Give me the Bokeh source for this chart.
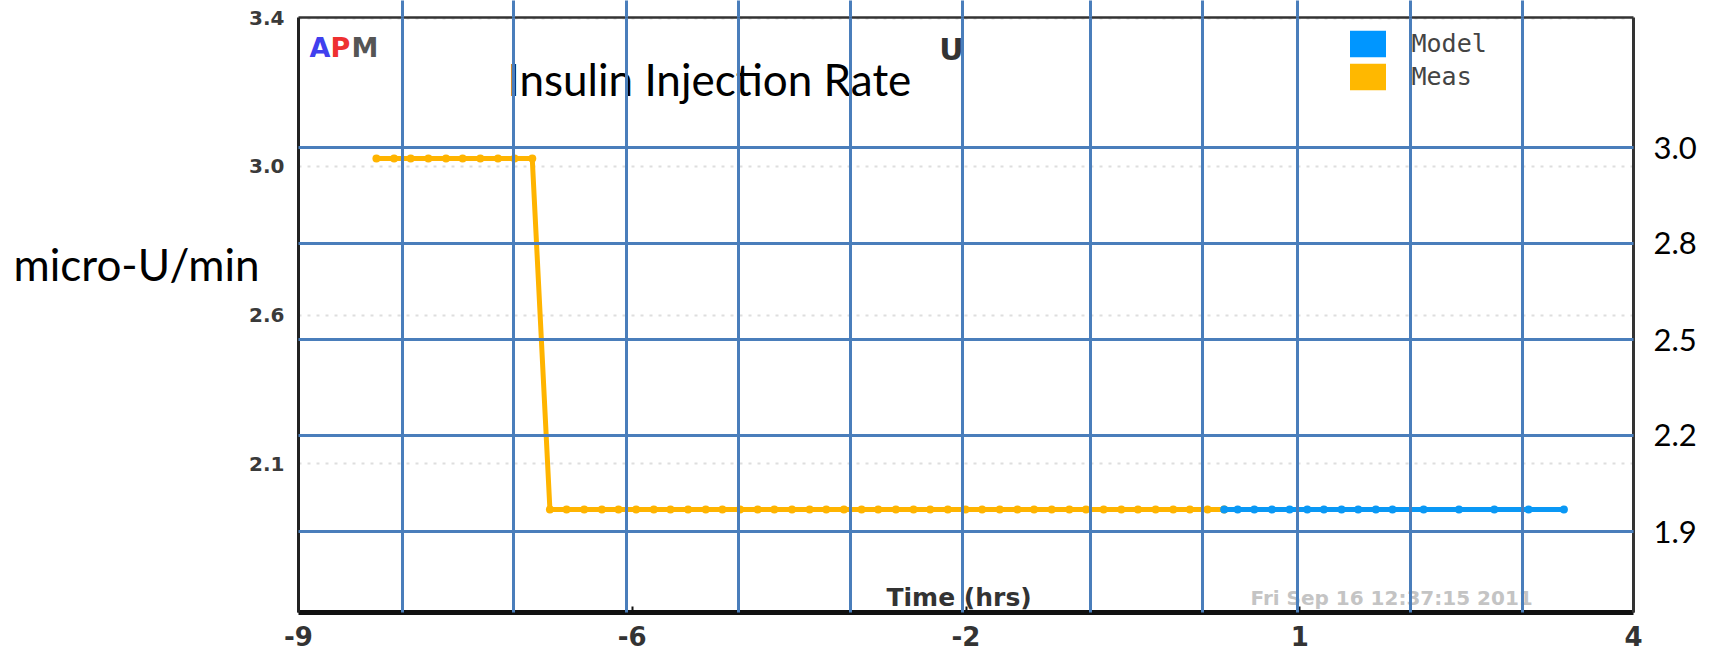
from bokeh.plotting import figure
from bokeh.models import (Range1d, FixedTicker, LinearAxis, Grid, Label, Legend, LegendItem)
from bokeh.embed import file_html
from bokeh.resources import INLINE

# ---------------- data ----------------
meas_time = [-8.0, -7.83, -7.67, -7.5, -7.33, -7.17, -7.0, -6.83, -6.67, -6.5,
             -6.33, -6.17, -6.0, -5.83, -5.67, -5.5, -5.33, -5.17, -5.0, -4.83,
             -4.67, -4.5, -4.33, -4.17, -4.0, -3.83, -3.67, -3.5, -3.33, -3.17,
             -3.0, -2.83, -2.67, -2.5, -2.33, -2.17, -2.0, -1.83, -1.67, -1.5,
             -1.33, -1.17, -1.0, -0.83, -0.67, -0.5, -0.33, -0.17, 0.0, 0.16]
meas_value = [3.0, 3.0, 3.0, 3.0, 3.0, 3.0, 3.0, 3.0, 3.0, 3.0,
              2.0, 2.0, 2.0, 2.0, 2.0, 2.0, 2.0, 2.0, 2.0, 2.0,
              2.0, 2.0, 2.0, 2.0, 2.0, 2.0, 2.0, 2.0, 2.0, 2.0,
              2.0, 2.0, 2.0, 2.0, 2.0, 2.0, 2.0, 2.0, 2.0, 2.0,
              2.0, 2.0, 2.0, 2.0, 2.0, 2.0, 2.0, 2.0, 2.0, 2.0]
model_time = [0.16, 0.29, 0.45, 0.62, 0.79, 0.96, 1.12, 1.29, 1.45, 1.62,
              1.78, 2.08, 2.42, 2.76, 3.09, 3.43]
model_value = [2.0, 2.0, 2.0, 2.0, 2.0, 2.0, 2.0, 2.0, 2.0, 2.0,
               2.0, 2.0, 2.0, 2.0, 2.0, 2.0]

x_ticks = [-8.75, -5.5375, -2.325, 0.8875, 4.1]
x_labels = ["-9", "-6", "-2", "1", "4"]
left_ticks = [3.40, 2.978, 2.554, 2.130]
left_labels = ["3.4", "3.0", "2.6", "2.1"]
unit_tick = [2.70]
unit_label = ["micro-U/min"]
right_ticks = [3.031, 2.758, 2.484, 2.211, 1.937]
right_labels = ["3.0", "2.8", "2.5", "2.2", "1.9"]
overlay_x_lines = [-7.75, -6.68, -5.59, -4.51, -3.44, -2.36, -1.13, -0.05, 0.87, 1.95, 3.03]

x_start, x_end = -8.75, 4.1
y_start, y_end = 1.7066, 3.4017

BLUE_GRID = "#4a7ebb"
MEAS_C = "#ffb400"
MODEL_C = "#0a98f5"

p = figure(width=1712, height=655, output_backend="svg", toolbar_location=None,
           x_range=Range1d(x_start, x_end), y_range=Range1d(y_start, y_end),
           min_border_left=298, min_border_right=79, min_border_top=17, min_border_bottom=43,
           background_fill_color="white", border_fill_color="white")
p.outline_line_color = None

# bottom axis (APM time axis)
xa = p.xaxis[0]
xa.ticker = FixedTicker(ticks=x_ticks)
xa.major_label_overrides = {t: l for t, l in zip(x_ticks, x_labels)}
xa.axis_line_color = "#111111"
xa.axis_line_width = 5
xa.major_tick_in = 6
xa.major_tick_out = 0
xa.major_tick_line_color = "#111111"
xa.major_tick_line_width = 2
xa.minor_tick_line_color = None
xa.major_label_text_font = "DejaVu Sans"
xa.major_label_text_font_style = "bold"
xa.major_label_text_font_size = "26px"
xa.major_label_text_color = "#333333"
xa.major_label_standoff = 13

# left axis (APM value axis)
ya = p.yaxis[0]
ya.ticker = FixedTicker(ticks=left_ticks)
ya.major_label_overrides = {t: l for t, l in zip(left_ticks, left_labels)}
ya.axis_line_color = "#222222"
ya.axis_line_width = 3
ya.major_tick_in = 0
ya.major_tick_out = 0
ya.major_tick_line_color = None
ya.minor_tick_line_color = None
ya.major_label_text_font = "DejaVu Sans"
ya.major_label_text_font_style = "bold"
ya.major_label_text_font_size = "20px"
ya.major_label_text_color = "#3a3a3a"
ya.major_label_standoff = 14

# units text as an outer left axis label
unit_axis = LinearAxis(ticker=FixedTicker(ticks=unit_tick),
                       axis_line_color=None, major_tick_line_color=None,
                       minor_tick_line_color=None, major_tick_in=0, major_tick_out=0,
                       major_label_text_font="Lato", major_label_text_font_size="44px",
                       major_label_text_color="#000000", major_label_standoff=-13)
unit_axis.major_label_overrides = {t: l for t, l in zip(unit_tick, unit_label)}
p.add_layout(unit_axis, "left")

# APM dotted grid
p.xgrid.visible = False
p.ygrid.grid_line_color = "#dedede"
p.ygrid.grid_line_width = 2
p.ygrid.grid_line_dash = "3 6"

# top border with overlay line extensions
top_axis = LinearAxis(ticker=FixedTicker(ticks=overlay_x_lines),
                      axis_line_color="#333333", axis_line_width=2.5,
                      major_tick_in=0, major_tick_out=17,
                      major_tick_line_color=BLUE_GRID, major_tick_line_width=3,
                      minor_tick_line_color=None,
                      major_label_text_font_size="0px", major_label_standoff=0)
top_axis.major_label_overrides = {t: "" for t in overlay_x_lines}
p.add_layout(top_axis, "above")

# right overlay axis
right_axis = LinearAxis(ticker=FixedTicker(ticks=right_ticks),
                        axis_line_color="#333333", axis_line_width=3,
                        major_tick_line_color=None, minor_tick_line_color=None,
                        major_tick_in=0, major_tick_out=0,
                        major_label_text_font="Lato", major_label_text_font_size="31px",
                        major_label_text_color="#000000", major_label_standoff=20)
right_axis.major_label_overrides = {t: l for t, l in zip(right_ticks, right_labels)}
p.add_layout(right_axis, "right")

# data
p.line(meas_time, meas_value, line_color=MEAS_C, line_width=5)
p.scatter(meas_time, meas_value, size=8, fill_color=MEAS_C, line_color=None)
p.line(model_time, model_value, line_color=MODEL_C, line_width=5)
p.scatter(model_time, model_value, size=8, fill_color=MODEL_C, line_color=None)

# legend swatches: zero-height areas along the series (invisible in the plot)
r_model = p.varea(x=model_time, y1=model_value, y2=model_value, fill_color="#0096ff")
r_meas = p.varea(x=meas_time, y1=meas_value, y2=meas_value, fill_color="#ffb800")
legend = Legend(items=[LegendItem(label="Model", renderers=[r_model]),
                       LegendItem(label="Meas", renderers=[r_meas])],
                location=(1046.5, 519.3), orientation="vertical",
                glyph_width=45, glyph_height=33, label_height=33, spacing=0,
                padding=0, margin=0, label_standoff=22,
                border_line_color=None, background_fill_alpha=0,
                label_text_font="DejaVu Sans Mono", label_text_font_size="25px",
                label_text_color="#444444", label_text_baseline="middle")
p.add_layout(legend, "center")

# overlay blue grid lines (on top)
p.add_layout(Grid(dimension=0, ticker=FixedTicker(ticks=overlay_x_lines),
                  grid_line_color=BLUE_GRID, grid_line_width=3, level="overlay"))
p.add_layout(Grid(dimension=1, ticker=FixedTicker(ticks=right_ticks),
                  grid_line_color=BLUE_GRID, grid_line_width=3, level="overlay"))

# texts
def lab(text, x, y, font, size, color="#000000", style="normal", align="left"):
    p.add_layout(Label(x=x, y=y, x_units="screen", y_units="screen", text=text,
                       text_font=font, text_font_size=size, text_color=color,
                       text_font_style=style, text_align=align,
                       text_baseline="alphabetic"))

lab("A", 11, 565, "DejaVu Sans", "27px", "#4040ee", "bold")
lab("P", 32, 565, "DejaVu Sans", "27px", "#ee3030", "bold")
lab("M", 53, 565, "DejaVu Sans", "27px", "#555555", "bold")
lab("U", 653, 563, "DejaVu Sans", "30px", "#333333", "bold", "center")
lab("Insulin Injection Rate", 209, 534, "Lato", "44px")
lab("Time (hrs)", 588, 15, "DejaVu Sans", "25px", "#333333", "bold")
lab("Fri Sep 16 12:37:15 2011", 952, 15, "DejaVu Sans", "20px", "#c4c4c4", "bold")

open("out.html", "w").write(file_html(p, INLINE))
